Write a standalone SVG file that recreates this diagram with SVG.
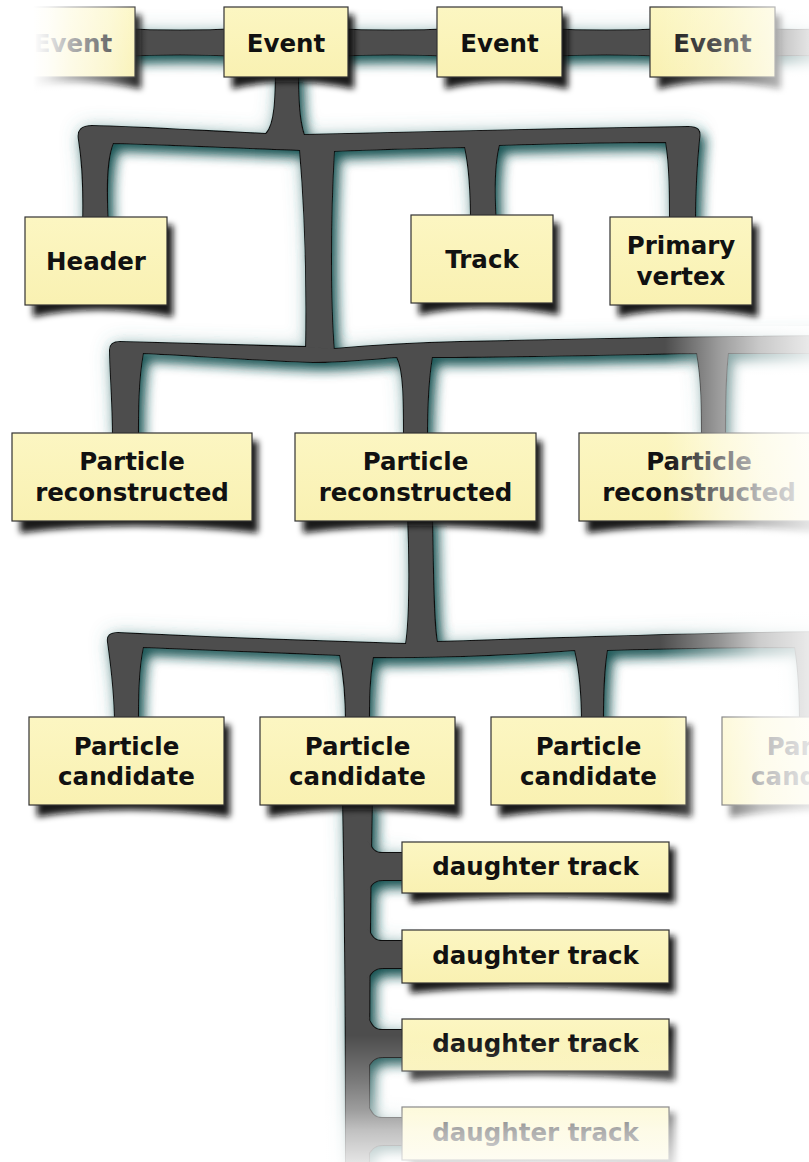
<svg xmlns="http://www.w3.org/2000/svg" xmlns:xlink="http://www.w3.org/1999/xlink" width="809" height="1162" viewBox="0 0 809 1162">
<style>
.box{fill:url(#boxg);stroke:#333;stroke-width:1.2}
.sh{fill:#111;fill-opacity:0.95;filter:url(#bsf)}
.t{font-family:"DejaVu Sans","Liberation Sans",sans-serif;font-weight:bold;font-size:24.5px;fill:#111;text-anchor:middle}
</style>
<defs>
<linearGradient id="boxg" x1="0" y1="0" x2="0" y2="1">
<stop offset="0" stop-color="#fcf6c2"/><stop offset="1" stop-color="#f9f1b2"/>
</linearGradient>
<filter id="bsf" x="-20%" y="-30%" width="140%" height="160%"><feGaussianBlur stdDeviation="3"/></filter>
<filter id="csf" filterUnits="userSpaceOnUse" x="-50" y="-50" width="909" height="1262">
<feGaussianBlur in="SourceAlpha" stdDeviation="6" result="b"/>
<feOffset in="b" dx="5" dy="7" result="o"/>
<feFlood flood-color="#1a5252" flood-opacity="1"/>
<feComposite in2="o" operator="in" result="s"/>
<feGaussianBlur in="SourceAlpha" stdDeviation="9" result="b2"/>
<feFlood flood-color="#4f8585" flood-opacity="0.35"/>
<feComposite in2="b2" operator="in" result="h"/>
<feMerge><feMergeNode in="h"/><feMergeNode in="s"/><feMergeNode in="SourceGraphic"/></feMerge>
</filter>
<linearGradient id="fadeL" gradientUnits="userSpaceOnUse" x1="0" y1="0" x2="150" y2="0">
<stop offset="0" stop-color="#fff" stop-opacity="1"/><stop offset="0.22" stop-color="#fff" stop-opacity="1"/><stop offset="0.32" stop-color="#fff" stop-opacity="0.9"/><stop offset="0.47" stop-color="#fff" stop-opacity="0.68"/><stop offset="0.73" stop-color="#fff" stop-opacity="0.38"/><stop offset="0.9" stop-color="#fff" stop-opacity="0.1"/><stop offset="0.97" stop-color="#fff" stop-opacity="0"/>
</linearGradient>
<linearGradient id="fadeR1" gradientUnits="userSpaceOnUse" x1="640" y1="0" x2="809" y2="0">
<stop offset="0.089" stop-color="#fff" stop-opacity="0"/><stop offset="0.473" stop-color="#fff" stop-opacity="0.3"/><stop offset="0.71" stop-color="#fff" stop-opacity="0.55"/><stop offset="1" stop-color="#fff" stop-opacity="0.85"/>
</linearGradient>
<linearGradient id="fadeR2" gradientUnits="userSpaceOnUse" x1="640" y1="0" x2="809" y2="0">
<stop offset="0.148" stop-color="#fff" stop-opacity="0"/><stop offset="0.473" stop-color="#fff" stop-opacity="0.45"/><stop offset="0.71" stop-color="#fff" stop-opacity="0.7"/><stop offset="1" stop-color="#fff" stop-opacity="0.88"/>
</linearGradient>
<linearGradient id="fadeR3" gradientUnits="userSpaceOnUse" x1="640" y1="0" x2="809" y2="0">
<stop offset="0.118" stop-color="#fff" stop-opacity="0"/><stop offset="0.473" stop-color="#fff" stop-opacity="0.4"/><stop offset="0.71" stop-color="#fff" stop-opacity="0.72"/><stop offset="1" stop-color="#fff" stop-opacity="0.88"/>
</linearGradient>
<linearGradient id="fadeB" gradientUnits="userSpaceOnUse" x1="0" y1="1030" x2="0" y2="1162">
<stop offset="0.038" stop-color="#fff" stop-opacity="0"/><stop offset="0.38" stop-color="#fff" stop-opacity="0.25"/><stop offset="0.606" stop-color="#fff" stop-opacity="0.45"/><stop offset="0.758" stop-color="#fff" stop-opacity="0.65"/><stop offset="1" stop-color="#fff" stop-opacity="0.85"/>
</linearGradient>
<path id="c0a" d="M 120,29 Q 180,32 240,29 L 240,56 Q 180,53 120,56 Z"/>
<path id="c0b" d="M 330,29 Q 393,32 455,29 L 455,56 Q 393,53 330,56 Z"/>
<path id="c0c" d="M 545,29 Q 606,32 668,29 L 668,56 Q 606,53 545,56 Z"/>
<path id="c0d" d="M 760,29 Q 800,31 830,29 L 830,56 Q 800,54 760,56 Z"/>
<path id="c1" d="M 276,60 C 276,100 275,125 266,134 C 200,131 140,127 92,126 C 82,126 77,130 79,140 C 83,165 84,190 83,226 L 108,226 C 106,190 106,160 113,143 C 180,145 250,148 300,150 C 306,220 307,300 306,352 L 334,352 C 330,300 330,220 334,151 C 380,149 430,148 465,147 C 470,170 471,195 471,224 L 496,224 C 494,195 494,165 499,145 C 560,143 620,142 666,142 C 670,165 670,195 670,226 L 695,226 C 695,190 697,160 699,140 C 701,130 698,127 688,127 C 560,129 420,132 304,135 C 299,120 298,100 298,60 Z"/>
<path id="c2" d="M 120,342 C 200,344 260,346 308,347 L 334,349 C 380,345 420,343 460,342 C 600,339 700,337 830,336 L 830,353 L 728,353 C 725,380 725,410 725,440 L 702,440 C 702,410 702,380 697,353 C 600,355 500,357 432,357 C 428,380 427,410 427,440 L 404,440 C 404,400 404,370 397,357 C 370,359 340,362 313,362 C 250,360 190,355 143,353 C 138,380 138,410 138,440 L 113,440 C 113,400 110,370 110,350 C 110,344 114,342 120,342 Z"/>
<path id="c3" d="M 408,515 C 410,560 410,620 406,644 C 300,641 200,637 118,633 C 110,633 107,636 108,642 C 112,670 115,700 115,725 L 138,725 C 138,700 138,670 143,647 C 220,650 290,653 340,655 C 345,680 346,700 346,725 L 369,725 C 369,700 369,680 373,657 C 450,658 520,654 575,650 C 581,675 582,700 582,725 L 603,725 C 603,700 603,675 607,650 C 680,648 740,647 795,647 C 799,670 800,700 800,725 L 830,725 L 830,632 C 700,633 560,638 437,642 C 433,620 433,560 432,515 Z"/>
<path id="c4" d="M 343,800 C 345,900 346,1000 346,1170 L 369,1170 C 369,1000 370,900 372,800 Z"/>
<path id="d1" d="M 366,840 C 371,843 371,853 382,853 L 410,853 L 410,880 L 383,880 C 373,880 371,886 366,892 Z"/>
<path id="d2" d="M 366,928 C 371,931 371,941 382,941 L 410,941 L 410,968 L 383,968 C 373,968 371,974 366,980 Z"/>
<path id="d3" d="M 366,1017 C 371,1020 371,1030 382,1030 L 410,1030 L 410,1057 L 383,1057 C 373,1057 371,1063 366,1069 Z"/>
<path id="d4" d="M 366,1105 C 371,1108 371,1118 382,1118 L 410,1118 L 410,1145 L 383,1145 C 373,1145 371,1151 366,1157 Z"/>
</defs>
<rect width="809" height="1162" fill="#fff"/>
<g id="connectors" filter="url(#csf)">
<g fill="#4d4d4d" stroke="#111" stroke-width="2">
<use xlink:href="#c0a"/><use xlink:href="#c0b"/><use xlink:href="#c0c"/><use xlink:href="#c0d"/>
<use xlink:href="#c1"/><use xlink:href="#c2"/><use xlink:href="#c3"/><use xlink:href="#c4"/>
<use xlink:href="#d1"/><use xlink:href="#d2"/><use xlink:href="#d3"/><use xlink:href="#d4"/>
</g>
<g fill="#4d4d4d">
<use xlink:href="#c0a"/><use xlink:href="#c0b"/><use xlink:href="#c0c"/><use xlink:href="#c0d"/>
<use xlink:href="#c1"/><use xlink:href="#c2"/><use xlink:href="#c3"/><use xlink:href="#c4"/>
<use xlink:href="#d1"/><use xlink:href="#d2"/><use xlink:href="#d3"/><use xlink:href="#d4"/>
</g>
</g>
<g id="event1"><path class="sh" d="M 19,15 L 141,15 L 141,89 Q 73,75 19,89 Z"/><rect class="box" x="11" y="7" width="124" height="70"/><text class="t" x="73" y="52">Event</text></g>
<g id="event2"><path class="sh" d="M 232,15 L 354,15 L 354,89 Q 286,75 232,89 Z"/><rect class="box" x="224" y="7" width="124" height="70"/><text class="t" x="286" y="52">Event</text></g>
<g id="event3"><path class="sh" d="M 445,15 L 568,15 L 568,89 Q 499.5,75 445,89 Z"/><rect class="box" x="437" y="7" width="125" height="70"/><text class="t" x="499.5" y="52">Event</text></g>
<g id="event4"><path class="sh" d="M 658,15 L 781,15 L 781,89 Q 712.5,75 658,89 Z"/><rect class="box" x="650" y="7" width="125" height="70"/><text class="t" x="712.5" y="52">Event</text></g>
<g id="header"><path class="sh" d="M 33,225 L 173,225 L 173,317 Q 96,303 33,317 Z"/><rect class="box" x="25" y="217" width="142" height="88"/><text class="t" x="96" y="270">Header</text></g>
<g id="track"><path class="sh" d="M 419,223 L 559,223 L 559,315 Q 482,301 419,315 Z"/><rect class="box" x="411" y="215" width="142" height="88"/><text class="t" x="482" y="268">Track</text></g>
<g id="primary-vertex"><path class="sh" d="M 618,225 L 758,225 L 758,317 Q 681,303 618,317 Z"/><rect class="box" x="610" y="217" width="142" height="88"/><text class="t" x="681" y="254">Primary</text><text class="t" x="681" y="285">vertex</text></g>
<g id="reco1"><path class="sh" d="M 20,441 L 258,441 L 258,533 Q 132,519 20,533 Z"/><rect class="box" x="12" y="433" width="240" height="88"/><text class="t" x="132" y="470">Particle</text><text class="t" x="132" y="501">reconstructed</text></g>
<g id="reco2"><path class="sh" d="M 303,441 L 542,441 L 542,533 Q 415.5,519 303,533 Z"/><rect class="box" x="295" y="433" width="241" height="88"/><text class="t" x="415.5" y="470">Particle</text><text class="t" x="415.5" y="501">reconstructed</text></g>
<g id="reco3"><path class="sh" d="M 587,441 L 825,441 L 825,533 Q 699,519 587,533 Z"/><rect class="box" x="579" y="433" width="240" height="88"/><text class="t" x="699" y="470">Particle</text><text class="t" x="699" y="501">reconstructed</text></g>
<g id="cand1"><path class="sh" d="M 37,725 L 230,725 L 230,817 Q 126.5,803 37,817 Z"/><rect class="box" x="29" y="717" width="195" height="88"/><text class="t" x="126.5" y="755">Particle</text><text class="t" x="126.5" y="785">candidate</text></g>
<g id="cand2"><path class="sh" d="M 268,725 L 461,725 L 461,817 Q 357.5,803 268,817 Z"/><rect class="box" x="260" y="717" width="195" height="88"/><text class="t" x="357.5" y="755">Particle</text><text class="t" x="357.5" y="785">candidate</text></g>
<g id="cand3"><path class="sh" d="M 499,725 L 692,725 L 692,817 Q 588.5,803 499,817 Z"/><rect class="box" x="491" y="717" width="195" height="88"/><text class="t" x="588.5" y="755">Particle</text><text class="t" x="588.5" y="785">candidate</text></g>
<g id="cand4"><path class="sh" d="M 730,725 L 923,725 L 923,817 Q 819.5,803 730,817 Z"/><rect class="box" x="722" y="717" width="195" height="88"/><text class="t" x="819.5" y="755">Particle</text><text class="t" x="819.5" y="785">candidate</text></g>
<g id="daughter1"><path class="sh" d="M 410,848 L 675,848 L 675,903 Q 535.5,891 410,903 Z"/><rect class="box" x="402" y="842" width="267" height="51"/><text class="t" x="535.5" y="875">daughter track</text></g>
<g id="daughter2"><path class="sh" d="M 410,936 L 675,936 L 675,993 Q 535.5,981 410,993 Z"/><rect class="box" x="402" y="930" width="267" height="53"/><text class="t" x="535.5" y="964">daughter track</text></g>
<g id="daughter3"><path class="sh" d="M 410,1025 L 675,1025 L 675,1081 Q 535.5,1069 410,1081 Z"/><rect class="box" x="402" y="1019" width="267" height="52"/><text class="t" x="535.5" y="1052">daughter track</text></g>
<g id="daughter4"><path class="sh" d="M 410,1113 L 675,1113 L 675,1170 Q 535.5,1158 410,1170 Z"/><rect class="box" x="402" y="1107" width="267" height="53"/><text class="t" x="535.5" y="1141">daughter track</text></g>
<g id="fades">
<rect x="0" y="0" width="150" height="105" fill="url(#fadeL)"/>
<rect x="640" y="0" width="169" height="108" fill="url(#fadeR1)"/>
<rect x="640" y="326" width="169" height="222" fill="url(#fadeR2)"/>
<rect x="640" y="560" width="169" height="278" fill="url(#fadeR3)"/>
<rect x="0" y="1030" width="809" height="132" fill="url(#fadeB)"/>
</g>
</svg>
